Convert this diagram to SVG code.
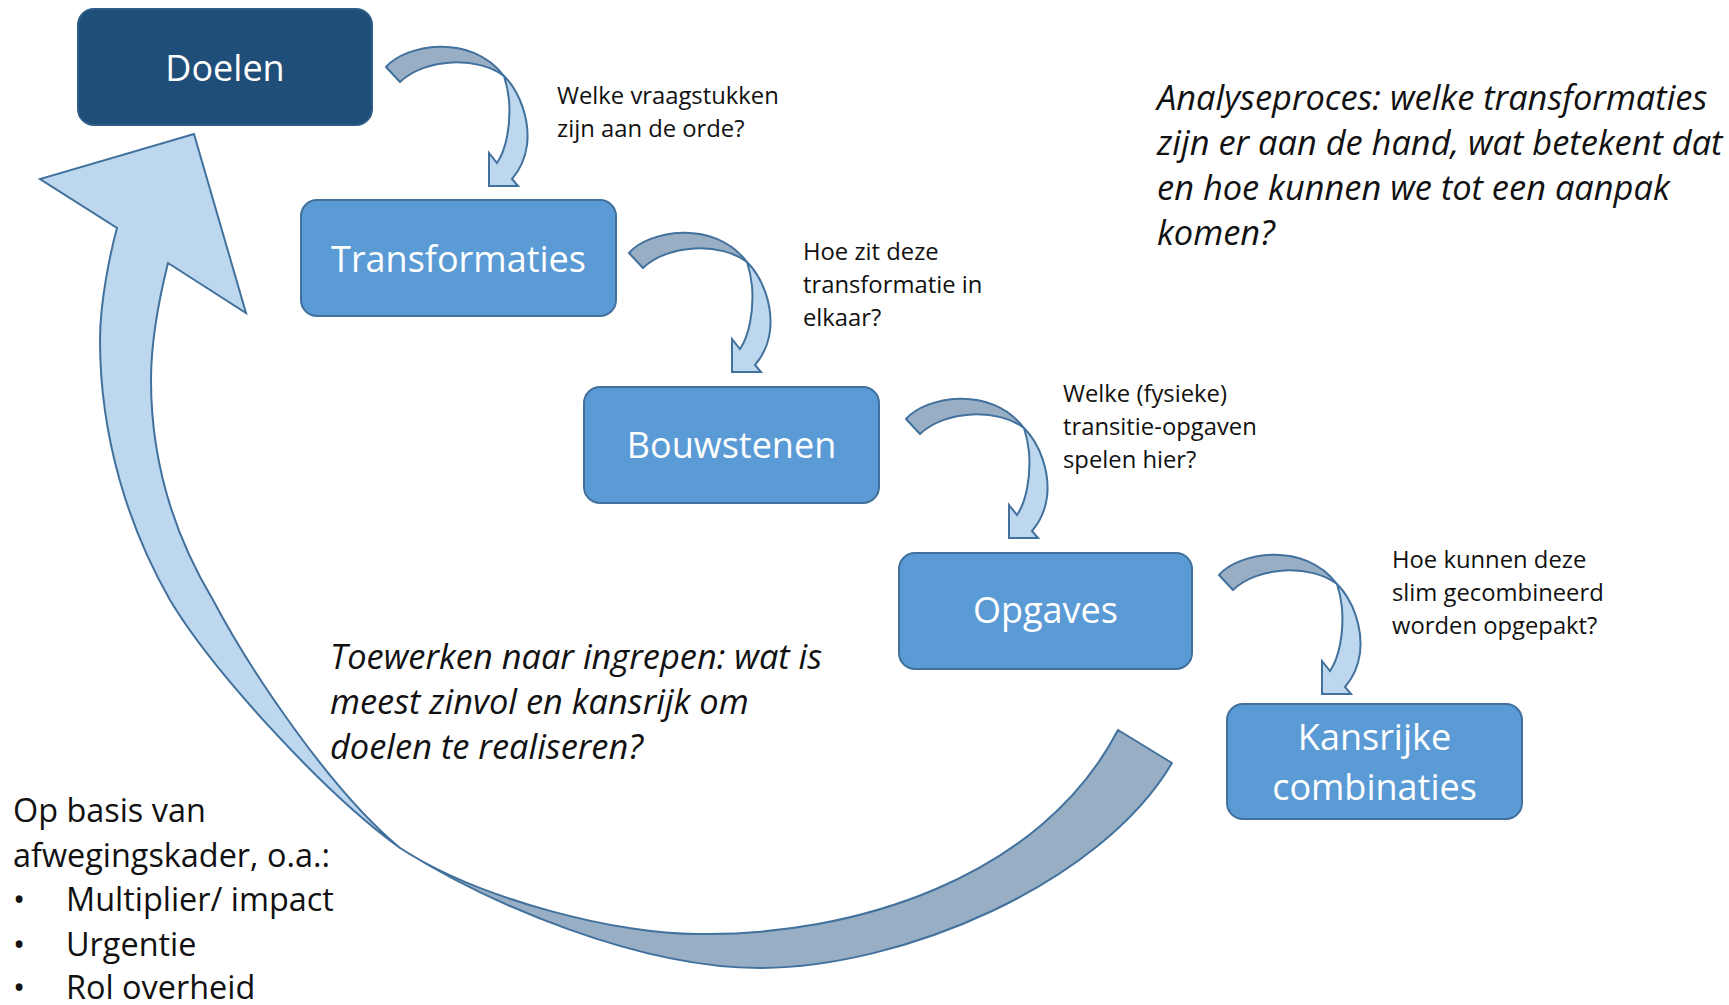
<svg xmlns="http://www.w3.org/2000/svg" width="1729" height="1005" viewBox="0 0 1729 1005">
<style>
.box{fill:#5B9BD5;stroke:#41719C;stroke-width:2}
.dark{fill:#1F4E79;stroke:#2E5C88;stroke-width:2}
.lbl{font-family:"Open Sans",sans-serif;font-size:36px;fill:#fff;text-anchor:middle}
.note{font-family:"Open Sans",sans-serif;font-size:23.8px;fill:#111}
.it{font-family:"Open Sans",sans-serif;font-size:34.4px;font-style:italic;fill:#111}
.txt{font-family:"Open Sans",sans-serif;font-size:32.4px;fill:#111}
.back{fill:#98AEC4;stroke:#41719C;stroke-width:2;stroke-linejoin:round}
.front{fill:#BDD7EE;stroke:#41719C;stroke-width:2}
</style>
<defs>
<g id="carrow">
<path class="back" d="M386,67 C405,45 470,32 504,76 C478,56 425,58 400,82 Z"/>
<path class="front" d="M504,76 C520,92 530,120 527,145 C525,160 518,172 512,179 L518,186 L489,186 L489,153 L497,163 C506,150 511,125 509,100 C508,90 506,82 504,76 Z"/>
</g>
</defs>
<rect width="1729" height="1005" fill="#fff"/>
<g id="connectors">
<g id="big-arrow">
<path class="back" d="M400,848 C480,900 620,935 700,934 C850,936 1040,880 1118,730 L1172,763 C1100,885 900,968 760,968 C640,968 490,905 400,848 Z"/>
<path class="front" d="M194,134 L246,313 L168,263 C160,295 151,340 151,380 C151,470 180,545 213,600 C250,670 330,790 400,848 C320,790 210,667 170,600 C130,530 100,440 100,340 C100,300 111,250 117,228 L40,179 Z"/>
</g>
<use id="arrow-doelen-transformaties" href="#carrow"/>
<use id="arrow-transformaties-bouwstenen" href="#carrow" transform="translate(243,186)"/>
<use id="arrow-bouwstenen-opgaves" href="#carrow" transform="translate(520,352)"/>
<use id="arrow-opgaves-kansrijke" href="#carrow" transform="translate(833,508)"/>
</g>
<g id="node-doelen">
<rect class="dark" x="78" y="9" width="294" height="116" rx="16"/>
<text class="lbl" x="225" y="81">Doelen</text>
</g>
<g id="node-transformaties">
<rect class="box" x="301" y="200" width="315" height="116" rx="16"/>
<text class="lbl" x="458.5" y="272">Transformaties</text>
</g>
<g id="node-bouwstenen">
<rect class="box" x="584" y="387" width="295" height="116" rx="16"/>
<text class="lbl" x="731.5" y="458">Bouwstenen</text>
</g>
<g id="node-opgaves">
<rect class="box" x="899" y="553" width="293" height="116" rx="16"/>
<text class="lbl" x="1045.5" y="623">Opgaves</text>
</g>
<g id="node-kansrijke">
<rect class="box" x="1227" y="704" width="295" height="115" rx="16"/>
<text class="lbl" x="1374.5" y="750">Kansrijke</text>
<text class="lbl" x="1374.5" y="800">combinaties</text>
</g>
<g id="notes">
<text class="note"><tspan x="557" y="104">Welke vraagstukken</tspan><tspan x="557" y="137">zijn aan de orde?</tspan></text>
<text class="note"><tspan x="803" y="260">Hoe zit deze</tspan><tspan x="803" y="293">transformatie in</tspan><tspan x="803" y="326">elkaar?</tspan></text>
<text class="note"><tspan x="1063" y="402">Welke (fysieke)</tspan><tspan x="1063" y="435">transitie-opgaven</tspan><tspan x="1063" y="468">spelen hier?</tspan></text>
<text class="note"><tspan x="1392" y="568">Hoe kunnen deze</tspan><tspan x="1392" y="601">slim gecombineerd</tspan><tspan x="1392" y="634">worden opgepakt?</tspan></text>
<text class="it"><tspan x="1157" y="110">Analyseproces: welke transformaties</tspan><tspan x="1157" y="155">zijn er aan de hand, wat betekent dat</tspan><tspan x="1157" y="200">en hoe kunnen we tot een aanpak</tspan><tspan x="1157" y="245">komen?</tspan></text>
<text class="it"><tspan x="330" y="669">Toewerken naar ingrepen: wat is</tspan><tspan x="330" y="714">meest zinvol en kansrijk om</tspan><tspan x="330" y="759">doelen te realiseren?</tspan></text>
<text class="txt"><tspan x="13" y="822">Op basis van</tspan><tspan x="13" y="867">afwegingskader, o.a.:</tspan><tspan x="13" y="911">•</tspan><tspan x="66" y="911">Multiplier/ impact</tspan><tspan x="13" y="956">•</tspan><tspan x="66" y="956">Urgentie</tspan><tspan x="13" y="999">•</tspan><tspan x="66" y="999">Rol overheid</tspan></text>
</g>
</svg>
